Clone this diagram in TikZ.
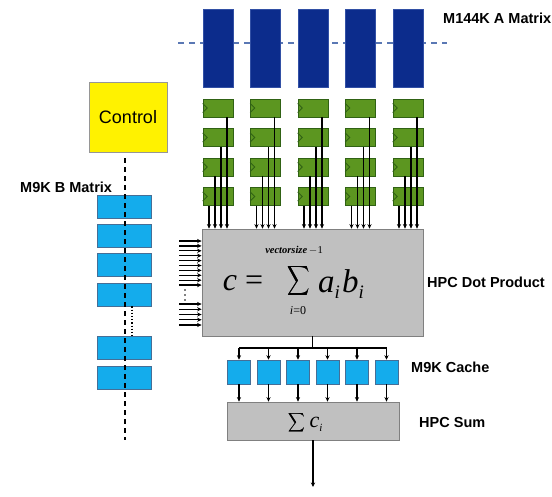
\documentclass[tikz,border=0pt]{standalone}
\usepackage{graphicx}
\usepackage{fontspec}
\setmainfont{Liberation Serif}
\setsansfont{Liberation Sans}
\usetikzlibrary{arrows.meta}
\definecolor{anavy}{RGB}{12,44,140}
\definecolor{anavyb}{RGB}{50,80,165}
\definecolor{adash}{RGB}{90,120,180}
\definecolor{rgreen}{RGB}{92,150,32}
\definecolor{rgreenb}{RGB}{48,98,20}
\definecolor{lblue}{RGB}{20,172,236}
\definecolor{lblueb}{RGB}{70,110,150}
\definecolor{gbox}{RGB}{192,192,192}
\definecolor{gboxb}{RGB}{128,128,128}
\definecolor{ctrlb}{RGB}{150,150,150}
\newcommand{\subidx}[1]{\raisebox{-0.17em}{\fontsize{#1}{#1}\selectfont\textit{i}}}
\newcommand{\fatsum}[3]{\makebox[0pt][l]{\resizebox*{#1}{#2}{$\displaystyle\sum$}}\kern#3\resizebox*{#1}{#2}{$\displaystyle\sum$}}
\begin{document}
\begin{tikzpicture}[x=1pt,y=-1pt,
  ablk/.style={fill=anavy,draw=anavyb,line width=0.6pt,minimum width=30pt,minimum height=78pt,inner sep=0pt},
  reg/.style={fill=rgreen,draw=rgreenb,line width=0.6pt,minimum width=30pt,minimum height=18pt,inner sep=0pt},
  bblk/.style={fill=lblue,draw=lblueb,line width=0.6pt,minimum width=54pt,minimum height=23pt,inner sep=0pt},
  cblk/.style={fill=lblue,draw=lblueb,line width=0.6pt,minimum width=23pt,minimum height=24pt,inner sep=0pt},
  gproc/.style={fill=gbox,draw=gboxb,line width=0.8pt,inner sep=0pt},
  wire/.style={line width=1.3pt,-{Stealth[length=4.5pt,width=4.2pt]}},
  lbl/.style={font=\sffamily\bfseries\fontsize{14.5}{16}\selectfont,anchor=west,inner sep=0pt},
  clk/.style={draw=rgreenb,line width=0.9pt}
]
\useasboundingbox (0,0) rectangle (552,496);

% top dashed line behind A blocks
\coordinate (tdl) at (178,43);
\coordinate (tdr) at (447,43);
\draw[adash,line width=1.2pt,dash pattern=on 6pt off 5pt] (tdl) -- (tdr);

% A matrix blocks and registers
\foreach \i in {0,...,4}{
  \pgfmathsetmacro\cx{218+47.5*\i}
  \node[ablk] (a\i) at (\cx,48) {};
  \foreach \j in {0,...,3}{
    \pgfmathsetmacro\cy{108+29.5*\j}
    \node[reg] (r\i\j) at (\cx,\cy) {};
    \draw[clk] ([yshift=4.5pt]r\i\j.west) -- ([xshift=4.5pt]r\i\j.west) -- ([yshift=-4.5pt]r\i\j.west);
  }
}
\node[lbl] (alab) at (443,18) {M144K A Matrix};

% Dot product box
\node[gproc,minimum width=221pt,minimum height=107pt] (dp) at (312.5,282.5) {};

% wires from registers
\foreach \i in {0,...,4}{
  \foreach \j in {0,...,3}{
    \pgfmathsetmacro\off{9-6*\j}
    \draw[wire] ([xshift=\off pt]r\i\j.south) -- ([xshift=\off pt]r\i\j.south |- dp.north);
  }
}

% formula
\node[inner sep=0pt,font=\fontsize{32}{36}\selectfont] (fc) at (243,283) {\textit{c} =};
\node[inner sep=0pt] (fs) at (298.5,281) {\fatsum{22.4pt}{33pt}{0.6pt}};
\node[inner sep=0pt,font=\fontsize{10.5}{12}\selectfont] (fup) at (294,250.5) {\textbf{\textit{vectorsize}}\,$-$1};
\node[inner sep=0pt,font=\fontsize{12}{14}\selectfont] (fdn) at (298,311) {\textit{i}=0};
\node[inner sep=0pt,font=\fontsize{33}{36}\selectfont] (fab) at (341,284) {\textit{a}\subidx{19}\kern2pt\textit{b}\subidx{19}};
\node[lbl] (dplab) at (427,282) {HPC Dot Product};

% left input arrows
\foreach \k in {0,...,9}{
  \coordinate (li\k) at (179,{241+4.9*\k});
  \draw[wire] (li\k) -- (li\k -| dp.west);
}
\foreach \k in {0,...,4}{
  \coordinate (lj\k) at (179,{304+5.25*\k});
  \draw[wire] (lj\k) -- (lj\k -| dp.west);
}
\foreach \y in {290,295,300}{\fill (185,\y) circle (0.9);}

% Control and B matrix
\node[fill=yellow,draw=ctrlb,line width=0.6pt,minimum width=78pt,minimum height=70pt,inner sep=0pt,font=\sffamily\fontsize{18}{20}\selectfont] (ctrl) at (128,117) {Control};
\node[lbl] (blab) at (20,187) {M9K B Matrix};
\foreach \y [count=\n] in {206.5,235.5,265,294.5,348,377.5}{
  \node[bblk] (b\n) at (124,\y) {};
}
\coordinate (bend) at (125,440);
\draw[line width=1.2pt,dash pattern=on 5pt off 4pt] ([yshift=-6pt]ctrl.south -| bend) -- (bend);
\draw[line width=1.2pt,dotted] ([xshift=8pt]b4.south) -- ([xshift=8pt]b5.north);

% cache
\coordinate (bus) at (312.5,348);
\draw[line width=1.3pt] (dp.south) -- (bus);
\foreach \k in {0,...,5}{
  \pgfmathsetmacro\cx{239+29.5*\k}
  \node[cblk] (c\k) at (\cx,372) {};
}
\draw[line width=1.3pt] (c0.north |- bus) -- (c5.north |- bus);
\foreach \k in {0,...,5}{
  \draw[wire] (c\k.north |- bus) -- (c\k.north);
}
\node[lbl] (clab) at (411,367) {M9K Cache};

% sum box
\node[gproc,minimum width=172pt,minimum height=38pt] (sum) at (313,421) {};
\foreach \k in {0,...,5}{
  \draw[wire] (c\k.south) -- (c\k.south |- sum.north);
}
\node[inner sep=0pt] (ss) at (296.5,422.5) {\fatsum{16.6pt}{21pt}{0.4pt}};
\node[inner sep=0pt,font=\fontsize{22}{24}\selectfont] (sc) at (316,424) {\textit{c}\subidx{11}};
\node[lbl] (slab) at (419,423) {HPC Sum};
\coordinate (out) at (313,487);
\draw[wire] (sum.south) -- (out);
\end{tikzpicture}
\end{document}
